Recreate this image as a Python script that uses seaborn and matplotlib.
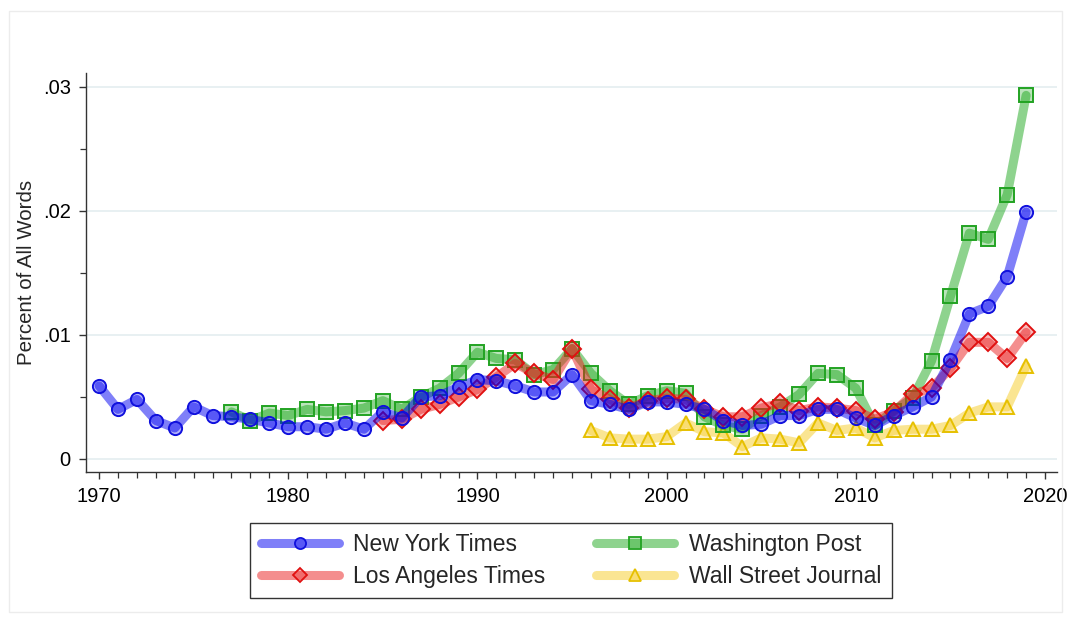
import numpy as np
import pandas as pd
import matplotlib
matplotlib.use("Agg")
import matplotlib.pyplot as plt
import seaborn as sns
from matplotlib.lines import Line2D
from matplotlib.ticker import MultipleLocator, FuncFormatter

# --- data ---
years_nyt = list(range(1970, 2020))
nyt = [0.0059, 0.0040, 0.0048, 0.0031, 0.0025, 0.0042, 0.0035, 0.0034, 0.0032, 0.0029,
       0.0026, 0.0026, 0.0024, 0.0029, 0.0024, 0.0038, 0.0033, 0.0050, 0.0051, 0.0058,
       0.0064, 0.0063, 0.0059, 0.0054, 0.0054, 0.0068, 0.0047, 0.0044, 0.0040, 0.0046,
       0.0046, 0.0044, 0.0040, 0.0031, 0.0027, 0.0028, 0.0035, 0.0035, 0.0040, 0.0040,
       0.0033, 0.0027, 0.0035, 0.0042, 0.0050, 0.0080, 0.0117, 0.0123, 0.0147, 0.0199]

years_wapo = list(range(1977, 2020))
wapo = [0.0038, 0.0031, 0.0037,
        0.0035, 0.0040, 0.0038, 0.0039, 0.0041, 0.0047, 0.0040, 0.0050, 0.0057, 0.0069,
        0.0086, 0.0081, 0.0080, 0.0068, 0.0072, 0.0089, 0.0069, 0.0055, 0.0044, 0.0051,
        0.0055, 0.0053, 0.0034, 0.0027, 0.0024, 0.0035, 0.0042, 0.0052, 0.0069, 0.0068,
        0.0057, 0.0027, 0.0039, 0.0049, 0.0079, 0.0131, 0.0182, 0.0177, 0.0213, 0.0293]

years_lat = list(range(1985, 2020))
lat = [0.0031, 0.0032, 0.0040, 0.0044, 0.0050,
       0.0056, 0.0066, 0.0077, 0.0069, 0.0064, 0.0089, 0.0056, 0.0048, 0.0041, 0.0047,
       0.0049, 0.0048, 0.0040, 0.0034, 0.0034, 0.0041, 0.0045, 0.0039, 0.0042, 0.0041,
       0.0039, 0.0032, 0.0038, 0.0052, 0.0057, 0.0073, 0.0094, 0.0094, 0.0081, 0.0102]

years_wsj = list(range(1996, 2020))
wsj = [0.0023, 0.0017, 0.0016, 0.0016,
       0.0018, 0.0029, 0.0022, 0.0021, 0.0010, 0.0017, 0.0016, 0.0013, 0.0029, 0.0023,
       0.0025, 0.0017, 0.0023, 0.0024, 0.0024, 0.0027, 0.0037, 0.0042, 0.0042, 0.0075]

# name, years, values, marker, line rgb, marker edge colour
series = [
    ("New York Times", years_nyt, nyt, "o", (0.0, 0.0, 0.95), "#1010dd"),
    ("Los Angeles Times", years_lat, lat, "D", (0.92, 0.12, 0.12), "#e01010"),
    ("Washington Post", years_wapo, wapo, "s", (0.12, 0.66, 0.12), "#22a322"),
    ("Wall Street Journal", years_wsj, wsj, "^", (0.97, 0.80, 0.15), "#e6c000"),
]
draw_order = ["Wall Street Journal", "Washington Post", "Los Angeles Times", "New York Times"]

sns.set_style("white")
plt.rcParams['font.family'] = ['Liberation Sans', 'DejaVu Sans']

fig = plt.figure(figsize=(10.71, 6.21), dpi=100)
ax = fig.add_axes([0.0803, 0.2399, 0.9066, 0.6425])

lookup = {s[0]: s for s in series}
for name in draw_order:
    _, yrs, vals, mk, rgb, ec = lookup[name]
    df = pd.DataFrame({"year": yrs, "value": vals})
    sns.lineplot(data=df, x="year", y="value", ax=ax, color=rgb + (0.5,), linewidth=6.5,
                 marker=mk, markersize=9.5 if mk != "D" else 9,
                 markerfacecolor=rgb + (0.3,), markeredgecolor=ec, markeredgewidth=1.4,
                 legend=False, zorder=3)

handles = []
for name, yrs, vals, mk, rgb, ec in series:
    handles.append(Line2D([], [], color=rgb + (0.5,), linewidth=6.5, marker=mk,
                          markersize=8 if mk != "D" else 7.5,
                          markerfacecolor=rgb + (0.3,), markeredgecolor=ec,
                          markeredgewidth=1.3, label=name))

ax.set_xlim(1969.31, 2020.63)
ax.set_ylim(-0.00105, 0.0311)

ax.xaxis.set_major_locator(MultipleLocator(10))
ax.xaxis.set_minor_locator(MultipleLocator(1))
ax.yaxis.set_major_locator(MultipleLocator(0.01))
ax.yaxis.set_minor_locator(MultipleLocator(0.005))
ax.yaxis.set_major_formatter(FuncFormatter(lambda v, p: "0" if abs(v) < 1e-9 else f"{v:.2f}".lstrip("0")))

ax.tick_params(axis="both", which="major", direction="out", length=5, width=1,
               color="#333333", labelsize=14.5, labelcolor="black", left=True, bottom=True)
ax.tick_params(axis="both", which="minor", direction="out", length=4, width=0.9,
               color="#333333", left=True, bottom=True)
ax.tick_params(axis="y", pad=6)
ax.tick_params(axis="x", pad=6)

ax.grid(axis="y", which="major", color="#e4eef0", linewidth=1.2)
ax.grid(axis="x", visible=False)
ax.set_axisbelow(True)

for s in ["top", "right"]:
    ax.spines[s].set_visible(False)
for s in ["left", "bottom"]:
    ax.spines[s].set_color("#333333")
    ax.spines[s].set_linewidth(1)

ax.set_xlabel("")
ax.set_ylabel("Percent of All Words", fontsize=14.8, labelpad=5)

leg = ax.legend(handles=handles, loc="upper center", bbox_to_anchor=(0.4995, -0.128), ncol=2,
                frameon=True, fancybox=False, edgecolor="black", fontsize=16.5,
                handlelength=3.4, columnspacing=2.2, borderpad=0.45,
                labelspacing=0.38, handletextpad=0.65, borderaxespad=0)
leg.get_frame().set_linewidth(1.0)

# light outer frame of the graph region
fig.patches.append(plt.Rectangle((0.008, 0.015), 0.984, 0.968, transform=fig.transFigure,
                                 fill=False, edgecolor="#ececec", linewidth=1))

fig.savefig("out.png", dpi=100)
